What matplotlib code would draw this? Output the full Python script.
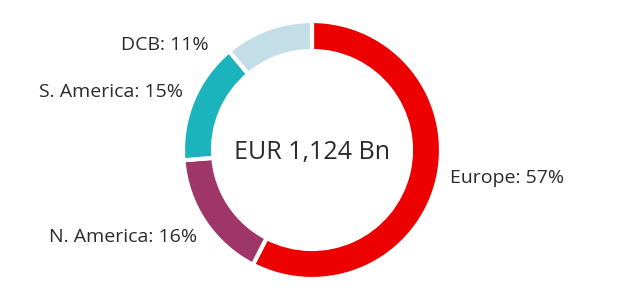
import matplotlib
matplotlib.use("Agg")
import matplotlib.pyplot as plt

categories = ["Europe", "N. America", "S. America", "DCB"]
shares = [57, 16, 15, 11]
colors = ["#EC0000", "#9E3667", "#1BB3BC", "#C3DEE7"]
center_label = "EUR 1,124 Bn"

plt.rcParams['font.family'] = ['Open Sans', 'DejaVu Sans']
text_color = "#2b2b2b"

W, H = 620, 300
fig = plt.figure(figsize=(W / 100, H / 100), dpi=100)
ax = fig.add_axes([0, 0, 1, 1])
ax.set_xlim(0, W)
ax.set_ylim(0, H)
ax.set_aspect('equal')
ax.axis('off')

cx, cy, R, ring = 312, 150, 129, 30
ax.pie(shares, colors=colors, startangle=90, counterclock=False,
       center=(cx, cy), radius=R,
       wedgeprops=dict(width=ring, edgecolor='white', linewidth=3))
ax.set_xlim(0, W)
ax.set_ylim(0, H)

ax.text(cx, H - 152, center_label, ha='center', va='center',
        fontsize=18, color=text_color)

label_pos = {
    "Europe": (450, H - 178, 'left'),
    "N. America": (197, H - 237, 'right'),
    "S. America": (183, H - 92, 'right'),
    "DCB": (209, H - 45, 'right'),
}
for cat, val in zip(categories, shares):
    x, y, ha = label_pos[cat]
    ax.text(x, y, f"{cat}: {val}%", ha=ha, va='center',
            fontsize=14, color=text_color)

fig.savefig("out.png", dpi=100)
